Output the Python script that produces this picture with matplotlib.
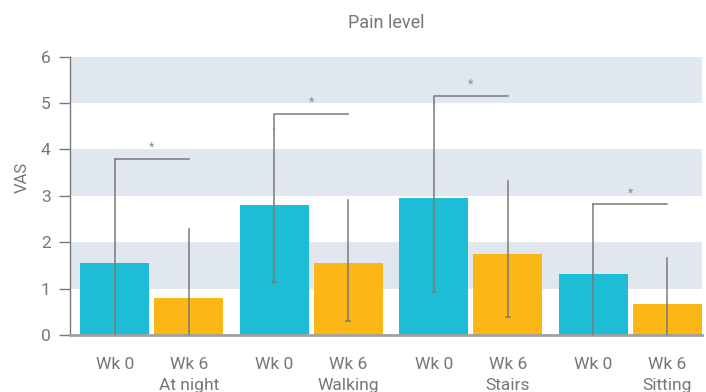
import matplotlib
matplotlib.use("Agg")
import matplotlib.pyplot as plt
import numpy as np

# values
groups = ["At night", "Walking", "Stairs", "Sitting"]
weeks = ["Wk 0", "Wk 6"]
wk0 = [1.56, 2.80, 2.95, 1.31]
wk6 = [0.80, 1.56, 1.75, 0.67]
wk0_low = [0.0, 1.15, 0.93, 0.0]
wk0_high = [3.80, 4.45, 4.97, 2.82]
wk6_low = [0.0, 0.31, 0.39, 0.0]
wk6_high = [2.28, 2.91, 3.32, 1.66]
bracket_y = [3.80, 4.77, 5.16, 2.82]

cyan = "#1dbdd8"
orange = "#fbb716"
band = "#e1e7ee"
grey = "#767676"
line_grey = "#7a7a7a"

plt.rcParams["font.family"] = ["Roboto", "DejaVu Sans"]

fig = plt.figure(figsize=(7.06, 3.92), dpi=100)
ax = fig.add_axes([70 / 706, 57 / 392, 632 / 706, 278.3 / 392])

# bar geometry in group units (period = 159 px)
w = 69 / 159
off = 37 / 159
x = np.arange(len(groups))
x0 = x - off
x6 = x + off

# alternating background bands
for lo in [1, 3, 5]:
    ax.axhspan(lo, lo + 1, color=band, lw=0, zorder=0)

ax.bar(x0, wk0, width=w, color=cyan, zorder=2)
ax.bar(x6, wk6, width=w, color=orange, zorder=2)

# error lines, small cap at the lower end only
cap = 0.012
for xs, lo, hi in [(x0, wk0_low, wk0_high), (x6, wk6_low, wk6_high)]:
    for xi, l, h in zip(xs, lo, hi):
        ax.plot([xi, xi], [l, h], color=line_grey, lw=1.1, zorder=3)
        if l > 0:
            ax.plot([xi - cap, xi + cap], [l, l], color=line_grey, lw=1.1, zorder=3)

# significance brackets
for xa, xb, by, h in zip(x0, x6, bracket_y, wk0_high):
    ax.plot([xa, xa, xb], [h, by, by], color=line_grey, lw=1.1, zorder=3)
    ax.text((xa + xb) / 2, by + 0.1, "*", ha="center", va="bottom",
            fontsize=9, color="#8a8a8a")

ax.set_xlim(x0[0] - w / 2 - 10 / 159, x6[-1] + w / 2)
ax.set_ylim(0, 6)

ax.set_yticks(range(7))
ax.tick_params(axis="y", length=8, width=1, color=line_grey, labelcolor=grey,
               labelsize=12.5, pad=6)
ax.set_xticks(list(x0) + list(x6))
ax.set_xticklabels(["Wk 0"] * 4 + ["Wk 6\n" + g for g in groups],
                   linespacing=1.45)
ax.tick_params(axis="x", length=0, labelcolor=grey, labelsize=12.5, pad=16)
for lbl in ax.get_xticklabels():
    lbl.set_verticalalignment("top")

for s in ["top", "right"]:
    ax.spines[s].set_visible(False)
ax.spines["left"].set_color(line_grey)
ax.spines["bottom"].set_color("#a0a0a0")
ax.spines["bottom"].set_linewidth(2)
ax.spines["left"].set_linewidth(1)

ax.set_title("Pain level", fontsize=13, color=grey, pad=21)
fig.text(22 / 706, 1 - 177 / 392, "VAS", rotation=90, ha="center", va="center",
         fontsize=12, color=grey)

fig.savefig("out.png", dpi=100)
